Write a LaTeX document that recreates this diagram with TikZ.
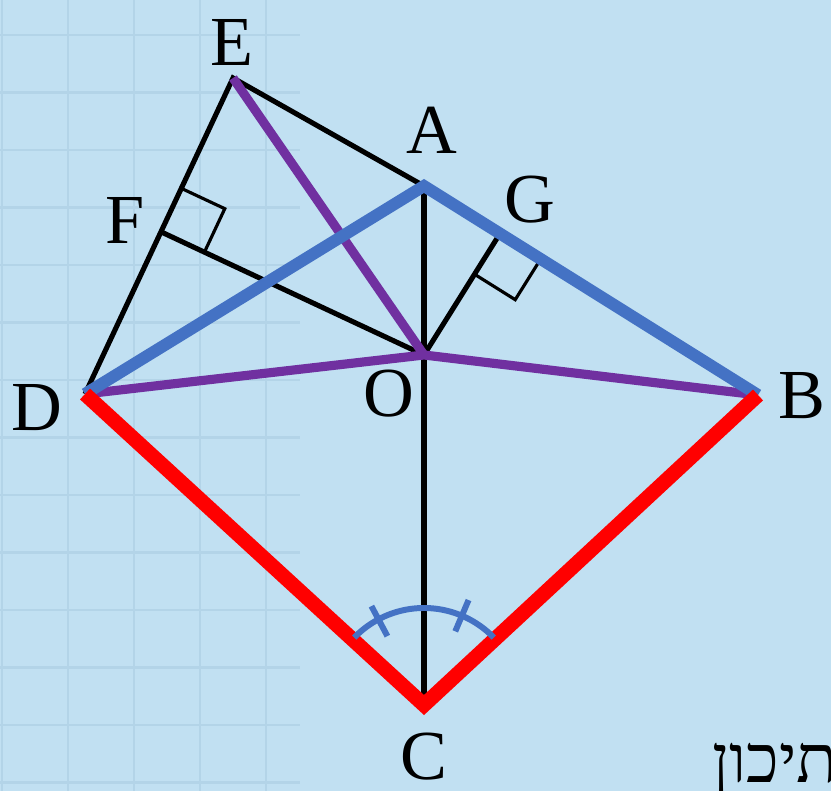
\documentclass[tikz,border=0pt]{standalone}
\usepackage{fontspec}
\setmainfont{Liberation Serif}
\newfontfamily\hebfont[Script=Hebrew]{Liberation Serif}
\TeXXeTstate=1
\usetikzlibrary{calc}
\definecolor{bgblue}{HTML}{C1E0F2}
\definecolor{gridblue}{HTML}{B3D4E8}
\definecolor{kiteblue}{HTML}{4472C4}
\definecolor{kitered}{HTML}{FF0000}
\definecolor{kitepurple}{HTML}{7030A0}
\tikzset{
  gridline/.style={draw=gridblue,line width=0.6pt},
  segment/.style={draw=black,line width=1.45pt},
  rightmark/.style={draw=black,line width=0.9pt},
  purpleseg/.style={draw=kitepurple,line width=2.6pt},
  blueseg/.style={draw=kiteblue,line width=3.4pt},
  redseg/.style={draw=kitered,line width=4.2pt},
  anglemark/.style={draw=kiteblue,line width=1.7pt},
  ptlabel/.style={font=\fontsize{20}{20}\selectfont,inner sep=0pt}
}

\begin{document}
\begin{tikzpicture}
  % page and faint grid
  \fill[bgblue] (0,0) rectangle (8.31,7.91);
  \useasboundingbox (0,0) rectangle (8.31,7.91);
  \clip (0,0) rectangle (8.31,7.91);
  \foreach \i in {0,...,4}
    \draw[gridline] ({0.02+0.66*\i},0) -- ({0.02+0.66*\i},7.91);
  \foreach \j in {0,...,13}
    \draw[gridline] (0,{7.56-0.575*\j}) -- (3.0,{7.56-0.575*\j});

  % points
  \coordinate (E) at (2.33,7.13);
  \coordinate (A) at (4.24,6.05);
  \coordinate (D) at (0.85,3.97);
  \coordinate (B) at (7.58,3.96);
  \coordinate (C) at (4.24,0.86);
  \coordinate (O) at (4.24,4.36);
  \coordinate (F) at ($(D)!(O)!(E)$);
  \coordinate (G) at ($(A)!(O)!(B)$);

  % black segments
  \draw[segment] (D) -- (E) -- (A);
  \draw[segment] (A) -- (C);
  \draw[segment] (F) -- (O) -- (G);

  % right angles
  \coordinate (F1) at ($(F)!0.48cm!(E)$);
  \coordinate (F2) at ($(F)!0.48cm!(O)$);
  \draw[rightmark] (F1) -- ($(F1)+(F2)-(F)$) -- (F2);
  \coordinate (G1) at ($(G)!0.48cm!(B)$);
  \coordinate (G2) at ($(G)!0.48cm!(O)$);
  \draw[rightmark] (G1) -- ($(G1)+(G2)-(G)$) -- (G2);

  % coloured segments
  \draw[purpleseg] (E) -- (O);
  \draw[purpleseg] (D) -- (O) -- (B);
  \draw[blueseg] (D) -- (A) -- (B);
  \draw[redseg] (D) -- (C) -- (B);

  % equal angles at C
  \draw[anglemark] ([shift={(44:0.97)}]C) arc (44:136:0.97);
  \draw[anglemark] ([shift={(118:0.78)}]C) -- ([shift={(118:1.12)}]C);
  \draw[anglemark] ([shift={(67:0.80)}]C) -- ([shift={(67:1.14)}]C);

  % labels
  \node[ptlabel] (labE) at (2.32,7.49) {E};
  \node[ptlabel] (labA) at (4.32,6.61) {A};
  \node[ptlabel] (labG) at (5.30,5.91) {G};
  \node[ptlabel] (labF) at (1.25,5.71) {F};
  \node[ptlabel] (labD) at (0.37,3.83) {D};
  \node[ptlabel] (labO) at (3.89,3.97) {O};
  \node[ptlabel] (labB) at (8.02,3.95) {B};
  \node[ptlabel] (labC) at (4.24,0.34) {C};
  \node[inner sep=0pt,anchor=base west,font=\fontsize{19}{19}\selectfont\hebfont]
    (note) at (7.12,0.08) {\beginR תיכון\endR};
\end{tikzpicture}
\end{document}
